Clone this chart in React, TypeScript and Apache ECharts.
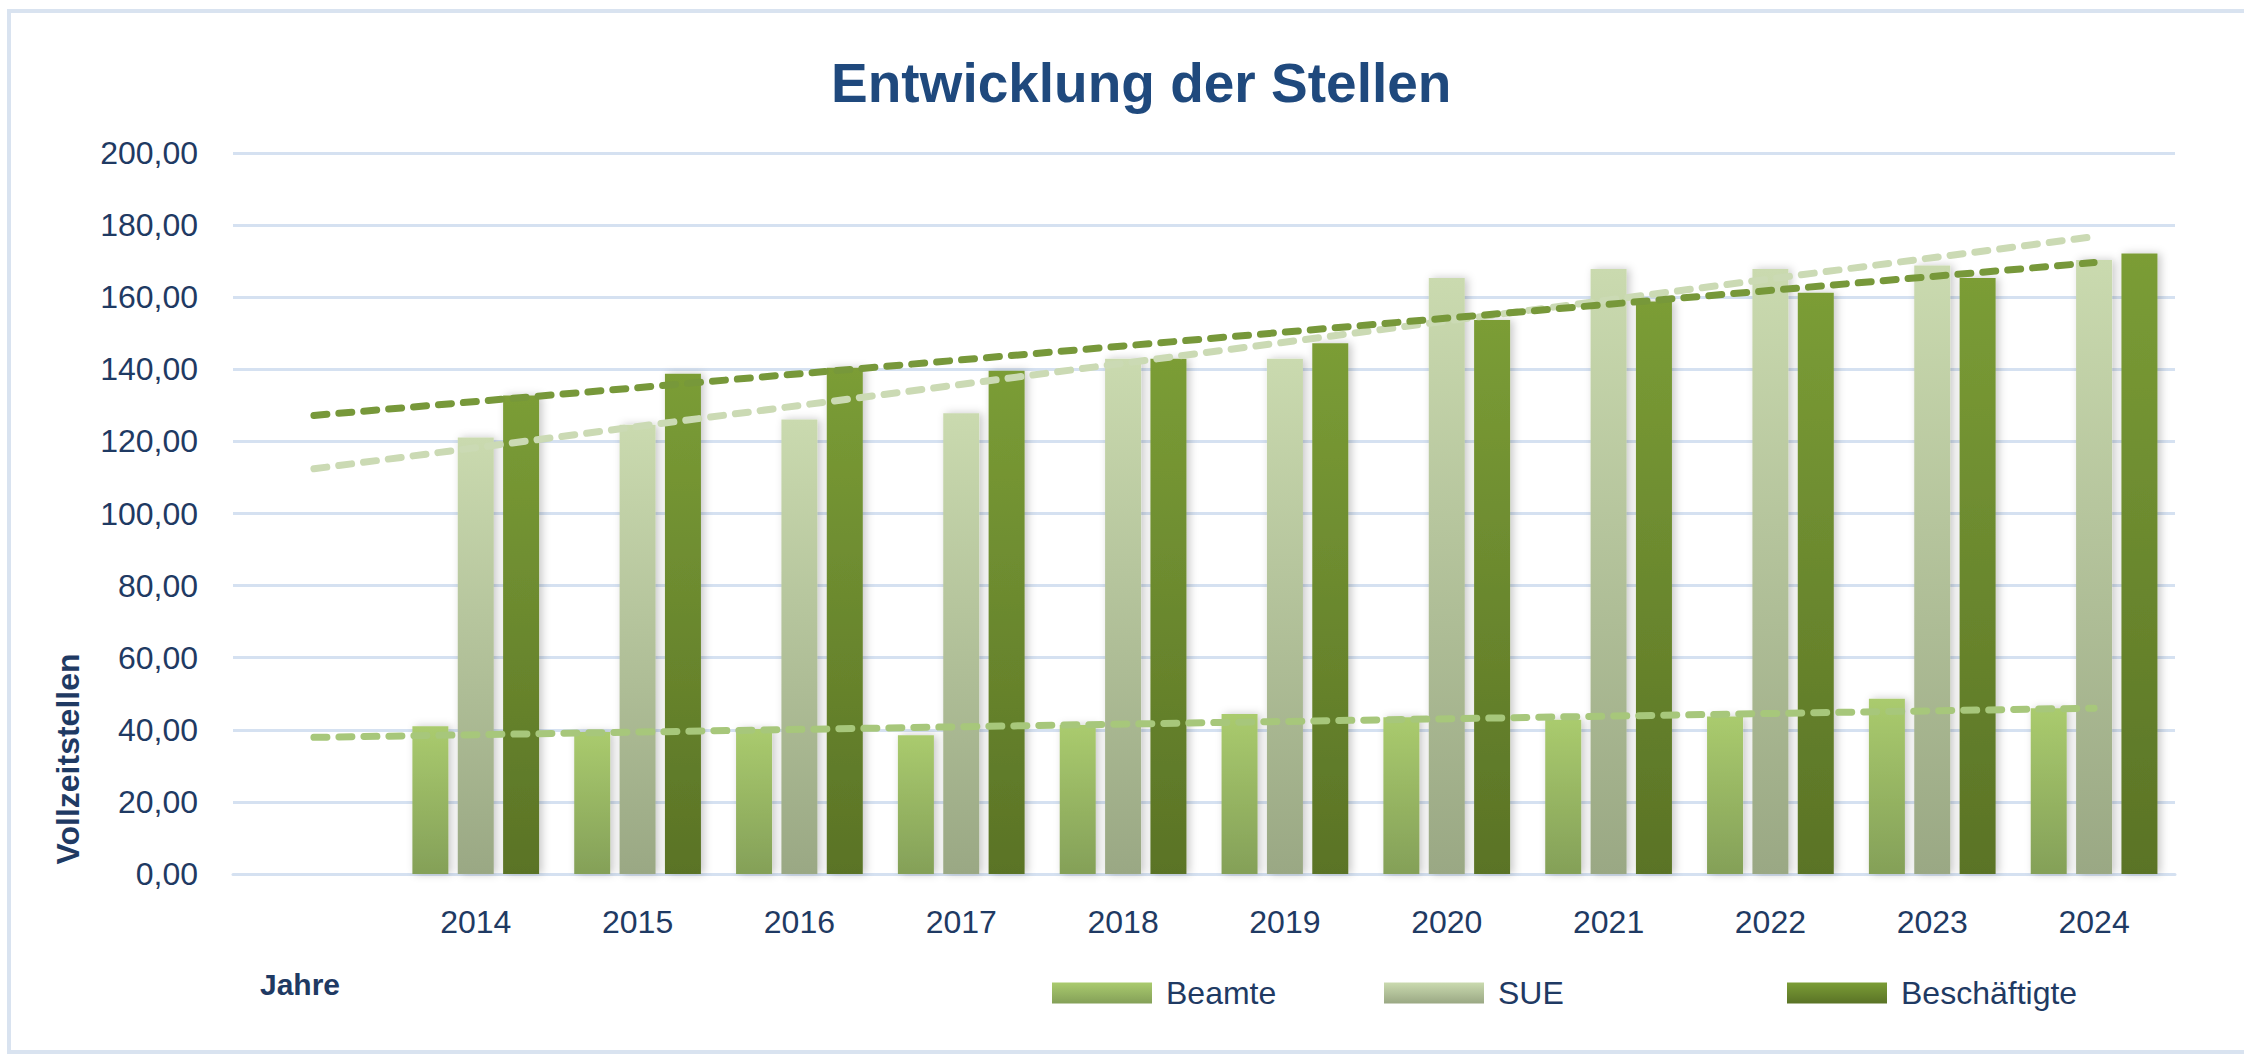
import React, { useEffect, useRef } from "react";
import * as echarts from "echarts";

const categories = ["", "2014", "2015", "2016", "2017", "2018", "2019", "2020", "2021", "2022", "2023", "2024"];
const beamte = [null, 41.0, 39.4, 40.2, 38.5, 41.3, 44.4, 43.5, 42.8, 43.7, 48.6, 46.0];
const sue = [null, 121.1, 124.6, 126.1, 127.8, 142.9, 142.9, 165.3, 167.8, 167.8, 168.8, 170.3];
const beschaeftigte = [null, 132.7, 138.8, 140.4, 139.6, 142.9, 147.2, 153.7, 158.8, 161.2, 165.3, 172.1];

// trend line endpoints (first slot, last slot)
const beamteTrend = [37.9, 46.0];
const sueTrend = [112.4, 176.8];
const beschTrend = [127.2, 169.6];

const seriesNames = ["Beamte", "SUE", "Beschäftigte"];
const legendLefts = [1052, 1384, 1787];

const NAVY = "#1f3a63";
const FONT = '"Liberation Sans", Arial, sans-serif';

function trendData(t: number[]) {
  return categories.map((_, i) => (i === 0 ? t[0] : i === categories.length - 1 ? t[1] : null));
}

function grad(top: string, bottom: string) {
  return new echarts.graphic.LinearGradient(0, 0, 0, 1, [
    { offset: 0, color: top },
    { offset: 1, color: bottom },
  ]);
}

export default function App() {
  const ref = useRef<HTMLDivElement>(null);
  useEffect(() => {
    if (!ref.current) return;
    const chart = echarts.init(ref.current, null, { renderer: "svg" });
    const barShadow = {
      shadowBlur: 8,
      shadowColor: "rgba(0,0,0,0.22)",
      shadowOffsetX: 3,
      shadowOffsetY: 0,
    };
    const trendLine = (name: string, t: number[], color: string) => ({
      name,
      type: "line",
      data: trendData(t),
      connectNulls: true,
      symbol: "none",
      showSymbol: false,
      z: 5,
      lineStyle: { color, width: 7, type: [13, 12], cap: "round" },
      tooltip: { show: false },
    });
    chart.setOption({
      animation: false,
      backgroundColor: "#ffffff",
      title: {
        text: "Entwicklung der Stellen",
        left: 831,
        top: 55,
        padding: 0,
        textStyle: {
          fontFamily: FONT,
          fontWeight: "bold",
          fontSize: 55,
          color: "#1f497d",
        },
      },
      legend: seriesNames.map((n, i) => ({
        data: [n],
        left: legendLefts[i],
        top: 977,
        padding: 0,
        icon: "rect",
        itemWidth: 100,
        itemHeight: 21,
        textStyle: {
          fontFamily: FONT,
          fontSize: 32,
          color: NAVY,
          padding: [0, 0, 0, 9],
        },
      })),
      grid: { left: 233, right: 69, top: 153, bottom: 180, containLabel: false },
      xAxis: {
        type: "category",
        data: categories,
        axisLine: { show: true, lineStyle: { color: "#d5e1f1", width: 3 } },
        axisTick: { show: false },
        axisLabel: {
          margin: 32,
          fontFamily: FONT,
          fontSize: 32,
          color: NAVY,
          interval: 0,
        },
      },
      yAxis: {
        type: "value",
        min: 0,
        max: 200,
        interval: 20,
        axisLine: { show: false },
        axisTick: { show: false },
        splitLine: { lineStyle: { color: "#d5e1f1", width: 3 } },
        axisLabel: {
          margin: 35,
          fontFamily: FONT,
          fontSize: 32,
          color: NAVY,
          formatter: (v: number) => v.toFixed(2).replace(".", ","),
        },
      },
      series: [
        {
          name: "Beamte",
          type: "bar",
          data: beamte,
          barWidth: 36,
          barGap: "26%",
          itemStyle: { color: grad("#aacb6e", "#84a058"), ...barShadow },
        },
        {
          name: "SUE",
          type: "bar",
          data: sue,
          barWidth: 36,
          barGap: "26%",
          itemStyle: { color: grad("#cadaaf", "#9aa884"), ...barShadow },
        },
        {
          name: "Beschäftigte",
          type: "bar",
          data: beschaeftigte,
          barWidth: 36,
          barGap: "26%",
          itemStyle: { color: grad("#7b9d36", "#5a7326"), ...barShadow },
        },
        trendLine("Trend Beamte", beamteTrend, "#a7c77b"),
        trendLine("Trend SUE", sueTrend, "#cbdab4"),
        trendLine("Trend Beschäftigte", beschTrend, "#77983a"),
      ],
      graphic: [
        {
          type: "rect",
          silent: true,
          shape: { x: 9, y: 11, width: 2260, height: 1041 },
          style: { fill: "none", stroke: "#d9e3f0", lineWidth: 4 },
          z: -1,
        },
        {
          type: "text",
          x: 68,
          y: 759,
          rotation: Math.PI / 2,
          style: {
            text: "Vollzeitstellen",
            fontFamily: FONT,
            fontWeight: "bold",
            fontSize: 32,
            fill: NAVY,
            align: "center",
            verticalAlign: "middle",
            textAlign: "center",
            textVerticalAlign: "middle",
          },
        },
        {
          type: "text",
          x: 260,
          y: 984,
          style: {
            text: "Jahre",
            fontFamily: FONT,
            fontWeight: "bold",
            fontSize: 30,
            fill: NAVY,
            align: "left",
            verticalAlign: "middle",
            textAlign: "left",
            textVerticalAlign: "middle",
          },
        },
      ],
    });
    return () => chart.dispose();
  }, []);
  return (
    <div
      ref={ref}
      style={{ position: "fixed", left: 0, top: 0, width: 2244, height: 1054, background: "#fff" }}
    />
  );
}
